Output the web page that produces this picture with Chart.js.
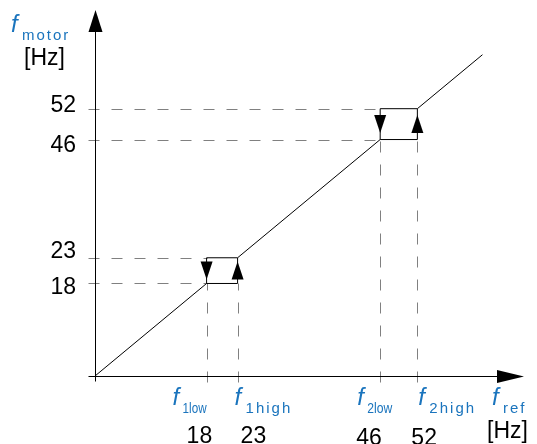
<!DOCTYPE html>
<html>
<head>
<meta charset="utf-8">
<script src="https://cdn.jsdelivr.net/npm/chart.js@4"></script>
<style>
  html, body { margin: 0; padding: 0; background: #fff; }
  canvas { display: block; }
</style>
</head>
<body>
<canvas id="chart" width="537" height="444"></canvas>
<script>
// ---------- data ----------
const ticks = [18, 23, 46, 52];
const tickNames = ["1low", "1high", "2low", "2high"];
// hysteresis bands: [low, high]
const bands = [[18, 23], [46, 52]];
// rising branch: lower edge, jumps up at f1high / f2high
const riseX = [0, 18, 23, 23, 46, 52, 52, 62.5];
const riseY = [0, 18, 18, 23, 46, 46, 52, 62.5];
const xMax = 69.2;
const yMax = 71.2;

// ---------- style / layout ----------
const BLUE = "#1a74bd";
const GREY = "#808080";
const FONT = '"Liberation Sans", Arial, sans-serif';
const LABEL_DX = [-34, -3, -23, 1];   // f-label left edge vs tick pixel
const SUB_FIT = [24, 0, 25, 0];       // squeezed "low" subscripts
const NUM_DX = [-20, 3, -24, -6];
const NUM_BASE = [443, 443, 445, 445];
const YLAB_DY = [4.5, -6, 6, -3];

const pts = (xs, ys) => xs.map((v, i) => ({ x: v, y: ys[i] }));
const snap = (v) => Math.round(v) + 0.5;

function line(ctx, x1, y1, x2, y2) {
  ctx.beginPath();
  ctx.moveTo(x1, y1);
  ctx.lineTo(x2, y2);
  ctx.stroke();
}
function head(ctx, x, y, dir, len, half) {
  // dir: "up" | "down" | "right", (x, y) is the tip
  ctx.beginPath();
  ctx.moveTo(x, y);
  if (dir === "up") { ctx.lineTo(x - half, y + len); ctx.lineTo(x + half, y + len); }
  if (dir === "down") { ctx.lineTo(x - half, y - len); ctx.lineTo(x + half, y - len); }
  if (dir === "right") { ctx.lineTo(x - len, y - half); ctx.lineTo(x - len, y + half); }
  ctx.closePath();
  ctx.fill();
}
function fLabel(ctx, x, yb, sub, fit) {
  ctx.fillStyle = BLUE;
  ctx.font = "italic 24px " + FONT;
  ctx.letterSpacing = "0px";
  ctx.fillText("f", x, yb);
  ctx.font = "15px " + FONT;
  if (fit) {
    ctx.fillText(sub, x + 10, yb + 8, fit);
  } else {
    ctx.letterSpacing = "2px";
    ctx.fillText(sub, x + 11, yb + 8);
    ctx.letterSpacing = "0px";
  }
}

// ---------- axes, guides, labels ----------
const overlay = {
  id: "overlay",
  beforeDatasetsDraw(chart) {
    const { ctx, scales: { x, y } } = chart;
    const x0 = snap(x.getPixelForValue(0));
    const y0 = snap(y.getPixelForValue(0));
    ctx.save();
    ctx.strokeStyle = GREY;
    ctx.lineWidth = 1;
    ctx.setLineDash([11, 12]);
    for (const [lo, hi] of bands) {
      const cx = snap(x.getPixelForValue(lo));
      const cy = snap(y.getPixelForValue(lo));
      for (const v of [lo, hi]) {
        line(ctx, x0 - 7, snap(y.getPixelForValue(v)), cx, snap(y.getPixelForValue(v)));
        line(ctx, snap(x.getPixelForValue(v)), y0 + 6, snap(x.getPixelForValue(v)), cy);
      }
    }
    ctx.restore();
  },
  afterDatasetsDraw(chart) {
    const { ctx, chartArea: a, scales: { x, y } } = chart;
    const x0 = snap(x.getPixelForValue(0));
    const y0 = snap(y.getPixelForValue(0));
    ctx.save();
    ctx.strokeStyle = "#000";
    ctx.fillStyle = "#000";
    ctx.lineWidth = 1;

    // axes with arrows
    line(ctx, x0, y0 + 5, x0, a.top + 20);
    head(ctx, x0, a.top, "up", 22, 7);
    line(ctx, x0 - 7, y0, a.right - 25, y0);
    head(ctx, a.right, y0, "right", 27, 6.5);

    // jump arrows in the middle of each vertical edge
    for (const [lo, hi] of bands) {
      const ym = (y.getPixelForValue(lo) + y.getPixelForValue(hi)) / 2;
      head(ctx, x.getPixelForValue(lo), ym + 9, "down", 18, 6);
      head(ctx, x.getPixelForValue(hi), ym - 9, "up", 18, 6);
    }

    // y tick labels
    ctx.font = "23px " + FONT;
    ctx.textAlign = "right";
    ctx.textBaseline = "middle";
    ticks.forEach((t, i) => {
      ctx.fillText(String(t), 76, y.getPixelForValue(t) + YLAB_DY[i]);
    });

    // y title
    ctx.textAlign = "left";
    ctx.textBaseline = "alphabetic";
    fLabel(ctx, 11, 32, "motor", 0);
    ctx.fillStyle = "#000";
    ctx.font = "23px " + FONT;
    ctx.fillText("[Hz]", 24, 65);

    // x tick labels
    ticks.forEach((t, i) => {
      const px = x.getPixelForValue(t);
      fLabel(ctx, px + LABEL_DX[i], 405, tickNames[i], SUB_FIT[i]);
      ctx.fillStyle = "#000";
      ctx.font = "23px " + FONT;
      ctx.fillText(String(t), px + NUM_DX[i], NUM_BASE[i]);
    });

    // x title
    fLabel(ctx, 492, 405, "ref", 0);
    ctx.fillStyle = "#000";
    ctx.font = "23px " + FONT;
    ctx.fillText("[Hz]", 487, 438);
    ctx.restore();
  },
};

// ---------- chart ----------
const datasets = [
  { data: pts(riseX, riseY) },
  ...bands.map(([lo, hi]) => ({ data: pts([lo, lo, hi], [lo, hi, hi]) })),
].map((d) => ({
  ...d,
  showLine: true,
  borderColor: "#000",
  borderWidth: 1,
  pointRadius: 0,
  tension: 0,
  clip: false,
}));

new Chart(document.getElementById("chart"), {
  type: "scatter",
  data: { datasets },
  options: {
    responsive: false,
    animation: false,
    devicePixelRatio: 1,
    layout: { padding: { left: 95, top: 10, right: 13, bottom: 68 } },
    plugins: { legend: { display: false }, tooltip: { enabled: false } },
    scales: {
      x: { type: "linear", min: 0, max: xMax, display: false },
      y: { type: "linear", min: 0, max: yMax, display: false },
    },
  },
  plugins: [overlay],
});
</script>
</body>
</html>
